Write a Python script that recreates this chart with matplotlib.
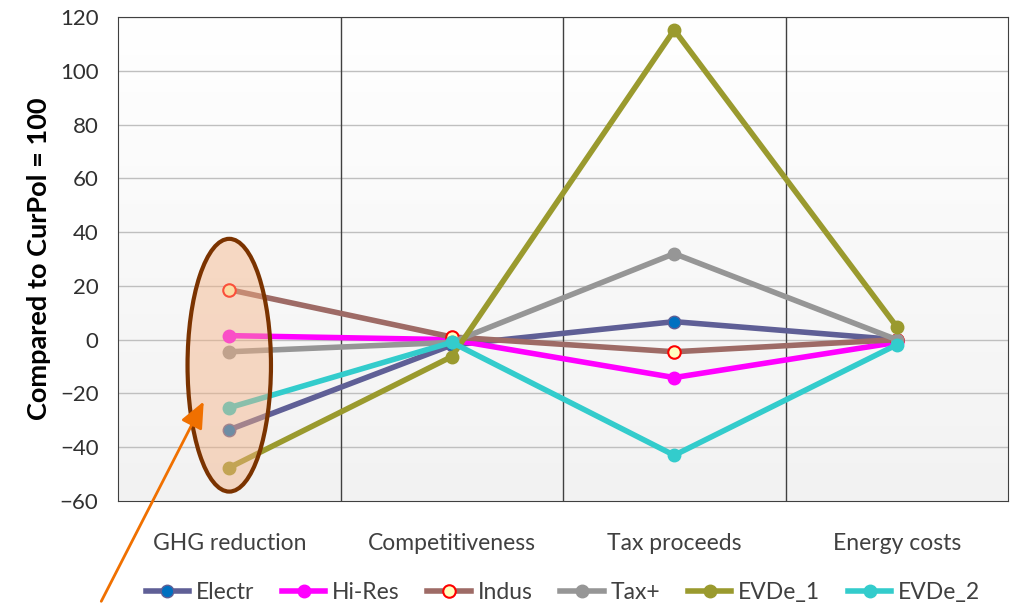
import numpy as np
import matplotlib.pyplot as plt
from matplotlib.colors import LinearSegmentedColormap
from matplotlib.patches import Ellipse, FancyArrowPatch

plt.rcParams['font.family'] = ['Lato', 'DejaVu Sans']

categories = ['GHG reduction', 'Competitiveness', 'Tax proceeds', 'Energy costs']
electr = [-33.5, -2.0, 6.7, 0.0]
hires = [1.5, 0.0, -14.1, -1.0]
indus = [18.6, 1.0, -4.5, 0.0]
taxplus = [-4.5, -1.0, 32.0, 0.0]
evde_1 = [-47.6, -6.3, 115.2, 4.8]
evde_2 = [-25.3, -1.0, -43.0, -1.9]

fig = plt.figure(figsize=(10.13, 6.05), dpi=100)
ax = fig.add_axes([118/1013, 1 - 501/605, 890/1013, 484/605])

x = np.arange(len(categories))

# gradient background of the plot area
grad = np.linspace(0, 1, 256).reshape(-1, 1)
bg = LinearSegmentedColormap.from_list('bg', ['#f2f2f2', '#ffffff'])
ax.imshow(grad, extent=[-0.5, 3.5, -60, 120], aspect='auto', cmap=bg, origin='lower', zorder=0)

for yv in range(-40, 121, 20):
    ax.axhline(yv, color='#bfbfbf', lw=1, zorder=1)
for xv in [0.5, 1.5, 2.5]:
    ax.axvline(xv, color='#404040', lw=1, zorder=1)

lw = 4
ms = 9
ax.plot(x, electr, color='#5f5f96', lw=lw, marker='o', ms=ms, mfc='#0070c0', mec='#5f5f96', label='Electr', zorder=3)
ax.plot(x, hires, color='#ff00ff', lw=lw, marker='o', ms=ms, mfc='#ff00ff', mec='#ff00ff', label='Hi-Res', zorder=3)
ax.plot(x, indus, color='#9e6b66', lw=lw, marker='o', ms=ms, mfc='#ffffc0', mec='#ff0000', mew=1.5, label='Indus', zorder=3)
ax.plot(x, taxplus, color='#969696', lw=lw, marker='o', ms=ms, mfc='#969696', mec='#969696', label='Tax+', zorder=3)
ax.plot(x, evde_1, color='#9a9a2e', lw=lw, marker='o', ms=ms, mfc='#9a9a2e', mec='#9a9a2e', label='EVDe_1', zorder=3)
ax.plot(x, evde_2, color='#33cccc', lw=lw, marker='o', ms=ms, mfc='#33cccc', mec='#33cccc', label='EVDe_2', zorder=3)

# highlight ellipse round the GHG points
ell = Ellipse((0, -9.5), width=0.375, height=94, facecolor='#f4b183', alpha=0.45, edgecolor='none', zorder=4)
ax.add_patch(ell)
ell2 = Ellipse((0, -9.5), width=0.375, height=94, facecolor='none', edgecolor='#7b3300', lw=3, zorder=5)
ax.add_patch(ell2)

arrow = FancyArrowPatch((100/1013, 0.002), (205/1013, 1 - 399/605), transform=fig.transFigure,
                        arrowstyle='-|>,head_length=0.8,head_width=0.35', mutation_scale=20,
                        color='#f07000', lw=2, zorder=6)
fig.patches.append(arrow)

ax.set_xlim(-0.5, 3.5)
ax.set_ylim(-60, 120)
ax.set_yticks(range(-60, 121, 20))
ax.set_xticks(x)
ax.set_xticklabels(categories, fontsize=16.5, color='#404040')
ax.tick_params(axis='y', labelsize=16, labelcolor='#303030', length=0, pad=14)
ax.tick_params(axis='x', length=0, pad=23)
for s in ax.spines.values():
    s.set_color('#404040')
ax.set_ylabel('Compared to CurPol = 100', fontsize=19.5, fontweight='bold', labelpad=6)

ax.legend(loc='center', bbox_to_anchor=(0.5, -0.19), ncol=6, frameon=False,
          fontsize=16.5, handlelength=1.9, columnspacing=1.2, handletextpad=0.3, labelcolor='#404040')

fig.savefig('out.png', dpi=100)
